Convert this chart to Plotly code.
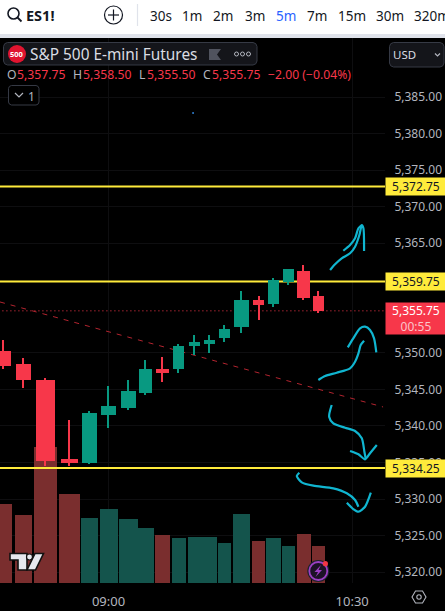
import plotly.graph_objects as go

# ---------- data ----------
bar_slots = [-6.53,-5.28,-3.91,-2.42,-1.18,0,1.24,2.30,3.35,4.35,5.34,6.27,7.2,8.26,9.32,10.25,11.18,12.11,13.04]
opens  = [5350.25,5348.5,5346.25,5335.5,5335,5341.5,5342.5,5344.5,5347.75,5347.75,5351,5351.25,5352,5353.5,5357.25,5356.75,5359.75,5361.25,5357.75]
closes = [5348.25,5346.25,5335.25,5335,5341.75,5342.75,5344.75,5347.75,5347.25,5351,5351.5,5351.75,5353.25,5357.25,5356.5,5360,5361.5,5357.5,5355.75]
highs  = [5351.75,5349.25,5346.5,5340.75,5342,5345.5,5346.25,5349,5349.5,5351.25,5352.5,5352.5,5353.75,5358.5,5357.75,5360.25,5361.5,5362,5358.5]
lows   = [5347.75,5345.25,5334.5,5334.5,5334.75,5339.75,5342.25,5344.25,5346,5347.25,5349.75,5350,5351.5,5352.75,5354.5,5356.25,5359.25,5357.25,5355.5]
volumes = [79,68,136,89,65,74,64,55,48,45,46,46,40,69,42,45,37,49,37]
levels = [5372.75,5359.75,5334.25]
level_labels = ["5,372.75","5,359.75","5,334.25"]
last_price = 5355.75
price_ticks = [5385,5380,5375,5370,5365,5350,5345,5340,5335,5330,5325,5320]
time_ticks = [0,15.13]
time_labels = ["09:00","10:30"]
trend_slots = [-6.74,17.05]
trend_prices = [5356.96,5342.6]
strokes = [
 ([13.76,14.07,14.48,15.0,15.31,15.58,15.73,15.83,15.87],[5361.33,5362.11,5362.93,5363.62,5364.52,5366.12,5367.49,5367.04,5363.93]),
 ([14.58,15.0,15.31,15.52,15.73],[5363.97,5364.75,5365.67,5367.04,5367.49]),
 ([13.03,13.45,14.17,15.0,15.31,15.52,15.66,15.87],[5346.29,5346.83,5347.28,5347.89,5348.79,5349.94,5351.07,5351.66]),
 ([14.86,15.2,15.62,15.93,16.24,16.49,16.63],[5350.76,5351.99,5353.36,5353.58,5353.13,5351.99,5350.07]),
 ([13.86,13.7,13.96,14.69,15.31,15.73,15.89,15.98],[5342.87,5341.27,5340.36,5339.76,5339.31,5338.31,5336.48,5335.44]),
 ([15.0,15.52,15.93,16.24,16.66],[5336.57,5336.12,5335.44,5336.26,5337.39]),
 ([11.85,11.69,12.0,12.72,13.96,14.8,15.31,15.52],[5333.6,5333.15,5332.29,5331.83,5331.47,5330.79,5329.87,5328.95]),
 ([14.8,15.2,15.52,15.93,16.29],[5329.5,5328.64,5328.27,5328.95,5330.87]),
]
intervals = ["30s","1m","2m","3m","5m","7m","15m","30m","320m"]

# ---------- style ----------
W, H = 445, 611
PX_PER_SLOT = 16.1
body_w_px = [15.6,15,19,17,15,15,15,13,13,11,11,11,11,15,11,11,11,13,11]
vol_w_px = [18,17,23.5,20.5,17.5,18,19,17,15.5,14,14,14.5,12.5,17.5,13.5,15,13,14,12.5]
interval_x = [150,182,213,245,276,307,338,376,414]
UP, DOWN, VUP, VDOWN = "#089981", "#f7374a", "#14544c", "#7a2e2e"
YEL, CYAN, GREY = "#ffeb3b", "#10b5d0", "#b2b5be"
FONT = "Noto Sans"
X_RANGE = [-6.74, 17.17]
Y_RANGE = [5318.52, 5393.07]

def px(x): return x / W
def py(y): return 1 - y / H

shapes, notes = [], []

def rect(x0, y0, x1, y1, fill, line=None, lw=0):
    shapes.append(dict(type="rect", xref="paper", yref="paper", x0=px(x0), x1=px(x1), y0=py(y1), y1=py(y0),
                       fillcolor=fill, line=dict(color=line or fill, width=lw), layer="above"))

def circle(cx, cy, r, fill="rgba(0,0,0,0)", line=None, lw=0):
    shapes.append(dict(type="circle", xref="paper", yref="paper", x0=px(cx-r), x1=px(cx+r), y0=py(cy+r), y1=py(cy-r),
                       fillcolor=fill, line=dict(color=line or fill, width=lw), layer="above"))

def path(pts, fill="rgba(0,0,0,0)", line=None, lw=0, close=False):
    d = "M " + " L ".join(f"{px(a):.5f},{py(b):.5f}" for a, b in pts) + (" Z" if close else "")
    shapes.append(dict(type="path", xref="paper", yref="paper", path=d, fillcolor=fill,
                       line=dict(color=line or "rgba(0,0,0,0)", width=lw), layer="above"))

def rrect(x0, y0, x1, y1, r, fill, line):
    c = 0.3 * r
    pts = [(x0+r,y0),(x1-r,y0),(x1-c,y0+c),(x1,y0+r),(x1,y1-r),(x1-c,y1-c),(x1-r,y1),(x0+r,y1),(x0+c,y1-c),(x0,y1-r),(x0,y0+r),(x0+c,y0+c)]
    path(pts, fill=fill, line=line, lw=1, close=True)

def text(x, y, s, size=13, color=GREY, anchor="left", family=FONT):
    notes.append(dict(xref="paper", yref="paper", x=px(x), y=py(y), text=s, showarrow=False, xanchor=anchor,
                      yanchor="middle", font=dict(size=size, color=color, family=family), borderpad=0, borderwidth=0))

# ---------- header chrome ----------
rect(0, 0, W, 34, "#ffffff")
rect(0, 34, W, 38, "#e0e3eb")
circle(13.5, 13.5, 5.5, line="#131722", lw=1.6)
path([(17.5,17.5),(21.5,21.5)], line="#131722", lw=1.8)
text(26, 15, "<b>ES1!</b>", 14.5, "#131722")
circle(113.5, 15, 9, line="#131722", lw=1.2)
path([(108,15),(119,15)], line="#131722", lw=1.2)
path([(113.5,9.5),(113.5,20.5)], line="#131722", lw=1.2)
path([(137.5,4),(137.5,26)], line="#e0e3eb", lw=1.2)
for lab, x in zip(intervals, interval_x):
    text(x, 15.5, lab, 13.5, "#2962ff" if lab == "5m" else "#131722")

rrect(3.5, 42.5, 257, 65, 4, "#14151a", "#363a45")
circle(17, 54, 9, fill="#e0142f")
text(17, 54, "<b>500</b>", 7.5, "#ffffff", "center")
text(30, 54.5, "S&amp;P 500 E-mini Futures", 15.4, "#dbdde3")
path([(209,49),(221,49),(217,54.5),(221,60),(209,60)], fill="#50535e", close=True)
for cx in (236.5, 242.5, 248.5):
    circle(cx, 54, 2, line="#b2b5be", lw=1)
rrect(389.5, 42.5, 444, 67, 4, "#14151a", "#363a45")
text(393, 54.5, "USD", 11.5, "#dbdde3")
path([(435,53.5),(437.5,56),(440,53.5)], line="#b2b5be", lw=1.2)

ohlc_row = [(6.5,"O",GREY),(17,"5,357.75",DOWN),(73,"H",GREY),(83,"5,358.50",DOWN),(139,"L",GREY),(147,"5,355.50",DOWN),
            (203,"C",GREY),(212,"5,355.75",DOWN),(268,"−2.00 (−0.04%)",DOWN)]
for x, s, c in ohlc_row:
    text(x, 75, s, 12.2, c)
rrect(8.5, 85.5, 39, 105, 3, "#000000", "#363a45")
path([(15,93),(19,97),(23,93)], line="#b2b5be", lw=1.2)
text(28, 96, "1", 12, GREY)

# ---------- overlays on chart ----------
path([(10,553.5),(27,553.5),(27,570),(18,570),(18,560),(10,560)], fill="#e6e8ee", line="#111", lw=1.6, close=True)
circle(29.5, 557, 3, fill="#e6e8ee", line="#111", lw=1.2)
path([(35,553.5),(43.5,553.5),(35.5,570),(27,570)], fill="#e6e8ee", line="#111", lw=1.6, close=True)
circle(318.3, 571, 11, fill="#1e222d")
circle(318.3, 571, 9, fill="#1c1226", line="#9c3fc4", lw=1.8)
path([(321,565),(314.5,572),(318,572),(315.5,577),(322,570),(318.5,570)], fill="#9c3fc4", close=True)
circle(325.4, 563.7, 2.6, fill="#f23645")
path([(412,597),(415.5,591),(422.5,591),(426,597),(422.5,603),(415.5,603)], line=GREY, lw=1.1, close=True)
circle(419, 597, 2.2, line=GREY, lw=1.1)

for lv, lab in zip(levels, level_labels):
    notes.append(dict(xref="paper", yref="y2", x=px(385), y=lv, xanchor="left", yanchor="middle", text=lab, showarrow=False,
                      width=60, height=17, align="center", bgcolor=YEL, borderpad=0,
                      font=dict(size=12, color="#131722", family=FONT)))
notes.append(dict(xref="paper", yref="y2", x=px(385), y=last_price, xanchor="left", yanchor="middle", yshift=-7.7,
                  text="5,355.75<br><span style='color:#fbc5ca'>00:55</span>", showarrow=False,
                  width=60, height=31, align="center", bgcolor=DOWN, borderpad=0,
                  font=dict(size=12, color="#ffffff", family=FONT)))

# ---------- traces ----------
fig = go.Figure()
colors = [UP if c >= o else DOWN for o, c in zip(opens, closes)]
vcolors = [VUP if c >= o else VDOWN for o, c in zip(opens, closes)]

fig.add_trace(go.Bar(x=bar_slots, y=volumes, width=[w/PX_PER_SLOT for w in vol_w_px], marker=dict(color=vcolors, line=dict(width=0)),
                     yaxis="y", showlegend=False))
for lv in levels:
    fig.add_trace(go.Scatter(x=X_RANGE, y=[lv, lv], mode="lines", line=dict(color=YEL, width=2), yaxis="y2", showlegend=False))
fig.add_trace(go.Scatter(x=[X_RANGE[0]+0.15, X_RANGE[1]], y=[last_price]*2, mode="lines", line=dict(color=DOWN, width=1, dash="1px,3px"),
                         yaxis="y2", showlegend=False))
fig.add_trace(go.Scatter(x=trend_slots, y=trend_prices, mode="lines", line=dict(color="#b3242f", width=1, dash="5px,6px"),
                         yaxis="y2", showlegend=False))
fig.add_trace(go.Scatter(x=[5.25], y=[5382.81], mode="markers", marker=dict(size=2, color="#2f7fd0"), yaxis="y2", showlegend=False))
for sx, sy in strokes:
    fig.add_trace(go.Scatter(x=sx, y=sy, mode="lines", line=dict(color=CYAN, width=2.2, shape="spline", smoothing=0.7),
                             yaxis="y2", showlegend=False))
fig.add_trace(go.Bar(x=bar_slots, base=lows, y=[h-l for h, l in zip(highs, lows)], width=1.2/PX_PER_SLOT,
                     marker=dict(color=colors, line=dict(width=0)), yaxis="y3", showlegend=False))
fig.add_trace(go.Bar(x=bar_slots, base=[min(o, c) for o, c in zip(opens, closes)],
                     y=[abs(o-c) for o, c in zip(opens, closes)], width=[w/PX_PER_SLOT for w in body_w_px],
                     marker=dict(color=colors, line=dict(width=0)), yaxis="y3", showlegend=False))

dom_y = [py(583), py(38)]
fig.update_layout(
    width=W, height=H, margin=dict(l=0, r=0, t=0, b=0, autoexpand=False), paper_bgcolor="#000000", plot_bgcolor="#000000",
    barmode="overlay", bargap=0, showlegend=False, hovermode=False, shapes=shapes, annotations=notes,
    font=dict(family=FONT, color=GREY),
    xaxis=dict(domain=[0, px(385)], range=X_RANGE, tickmode="array", tickvals=time_ticks, ticktext=time_labels, automargin=False,
               ticks="outside", ticklen=6, tickcolor="rgba(0,0,0,0)", tickfont=dict(size=13, color=GREY, family=FONT),
               showgrid=True, gridcolor="#0e0e10", zeroline=False, showline=False),
    yaxis=dict(domain=dom_y, range=[0, 545], visible=False, showgrid=False, automargin=False),
    yaxis2=dict(domain=dom_y, range=Y_RANGE, overlaying="y", side="right", tickmode="array", tickvals=price_ticks, automargin=False,
                ticktext=[f"{p:,.2f}" for p in price_ticks], ticks="outside", ticklen=6, tickcolor="rgba(0,0,0,0)",
                tickfont=dict(size=12, color=GREY, family=FONT), showgrid=True, gridcolor="#0e0e10", zeroline=False, showline=False),
    yaxis3=dict(domain=dom_y, range=Y_RANGE, overlaying="y", visible=False, showgrid=False, automargin=False),
)
fig.write_html("out.html", config=dict(displayModeBar=False),
               post_script="document.body.style.margin='0';document.body.style.background='#000';document.documentElement.style.overflow='hidden';")
